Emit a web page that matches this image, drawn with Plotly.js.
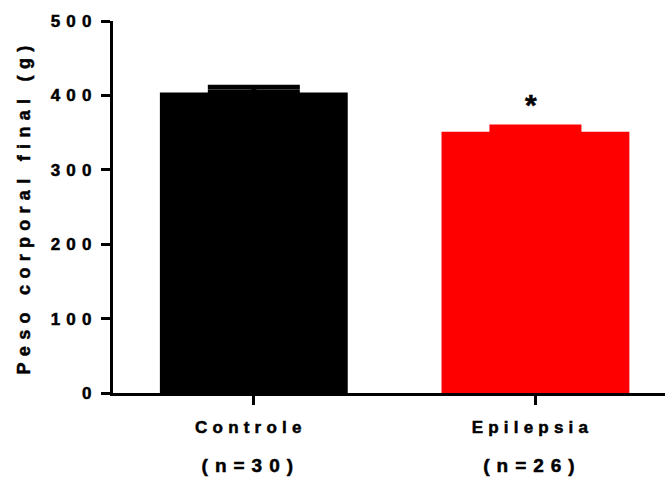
<!DOCTYPE html>
<html>
<head>
<meta charset="utf-8">
<script src="https://cdn.plot.ly/plotly-3.0.1.min.js"></script>
<style>
html, body { margin: 0; padding: 0; background: #fff; }
#chart { width: 665px; height: 478px; }
.ytick text { letter-spacing: 6.2px; }
.g-ytitle text { letter-spacing: 6.3px; }
.xtick text, .ytick text, .g-ytitle text, .annotation-text { stroke: #000; stroke-width: 0.5px; }
</style>
</head>
<body>
<div id="chart"></div>
<script>
// Data
var categories = ['Controle', 'Epilepsia'];
var nLabels = ['(n=30)', '(n=26)'];
var means = [404, 351];
var sems = [7, 6.5];
var significance = ['', '*'];
var colors = ['#000000', '#ff0000'];
var yTicks = [0, 100, 200, 300, 400, 500];

var FONT = '"Liberation Sans", Arial, sans-serif';

var traces = categories.map(function (c, i) {
  return {
    type: 'bar',
    x: [i],
    y: [means[i]],
    width: 0.667,
    marker: { color: colors[i], line: { width: 0 } },
    error_y: {
      type: 'data',
      symmetric: false,
      array: [sems[i]],
      arrayminus: [0],
      color: colors[i],
      thickness: 5,
      width: 46,
      visible: true
    },
    hoverinfo: 'none',
    showlegend: false
  };
});

var annotations = [];
significance.forEach(function (s, i) {
  if (s) {
    annotations.push({
      x: i, y: means[i] + sems[i], xref: 'x', yref: 'y',
      text: s, showarrow: false, yanchor: 'bottom', xshift: -4, yshift: 4,
      font: { family: FONT, size: 30, color: '#000', weight: 'bold' }
    });
  }
});

var layout = {
  width: 665, height: 478,
  margin: { l: 113, r: 0, t: 21, b: 85, pad: 0 },
  paper_bgcolor: '#fff', plot_bgcolor: '#fff',
  barmode: 'overlay',
  font: { family: FONT, size: 16, color: '#000', weight: 'bold' },
  xaxis: {
    range: [-0.5, 1.46],
    tickmode: 'array',
    tickvals: categories.map(function (c, i) { return i; }),
    ticktext: categories.map(function (c, i) {
      return '<span style="font-size:17px;letter-spacing:5.2px">' + c + '</span>' +
        '<br> <br><span style="font-size:19px;letter-spacing:7px">' + nLabels[i] + '</span>';
    }),
    ticks: 'outside', ticklen: 9, tickwidth: 3, tickcolor: '#000',
    showline: true, linecolor: '#000', linewidth: 3,
    showgrid: false, zeroline: false,
    tickfont: { family: FONT, size: 15, color: '#000', weight: 'bold' },
    ticklabelstandoff: 10,
    ticklabelshift: -3,
    fixedrange: true
  },
  yaxis: {
    range: [0, 500],
    tickmode: 'array',
    tickvals: yTicks,
    ticktext: yTicks.map(String),
    ticks: 'outside', ticklen: 9, tickwidth: 3, tickcolor: '#000',
    showline: true, linecolor: '#000', linewidth: 3,
    showgrid: false, zeroline: false,
    tickfont: { family: FONT, size: 17, color: '#000', weight: 'bold' },
    ticklabelstandoff: 0,
    title: { text: 'Peso corporal final (g)', font: { family: FONT, size: 18, color: '#000', weight: 'bold' }, standoff: 16 },
    fixedrange: true
  },
  annotations: annotations
};

Plotly.newPlot('chart', traces, layout, { displayModeBar: false, staticPlot: true });
</script>
</body>
</html>
